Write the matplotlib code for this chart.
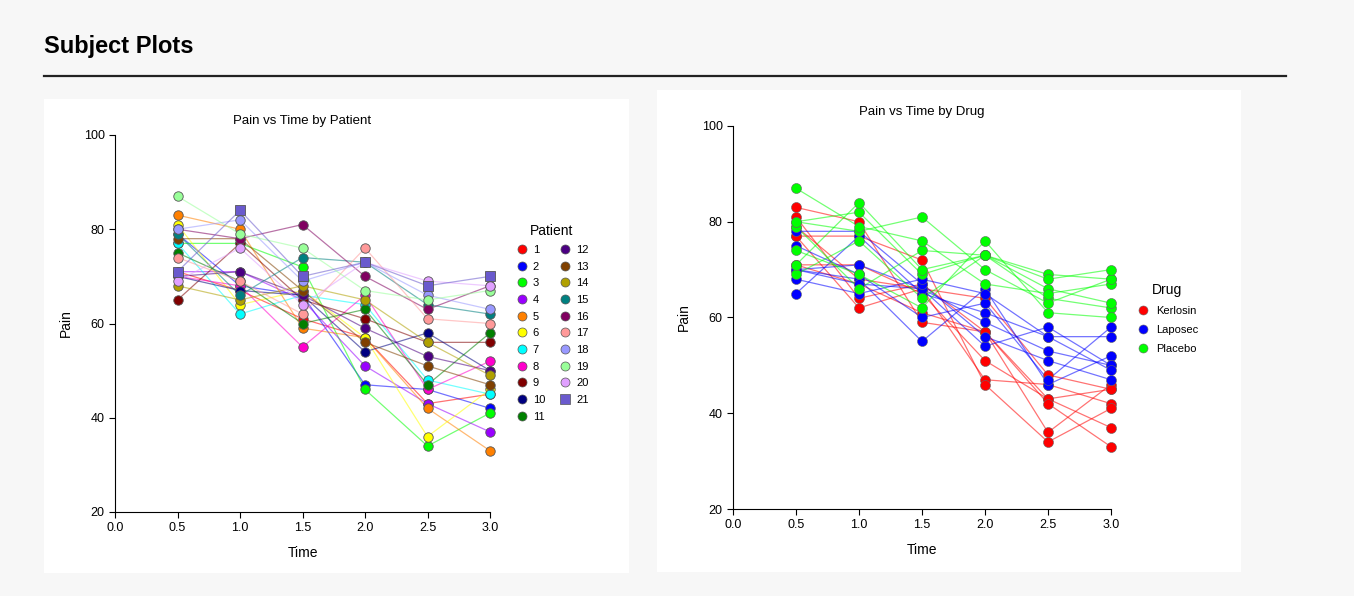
import matplotlib
matplotlib.use('Agg')
import matplotlib.pyplot as plt
from matplotlib.lines import Line2D
from matplotlib.patches import Rectangle

plt.rcParams['font.family'] = ['Liberation Sans', 'DejaVu Sans']

# data
times = [0.5, 1.0, 1.5, 2.0, 2.5, 3.0]
patients = [str(i) for i in range(1, 22)]
pain = [
    [71, 67, 61, 57, 43, 45],   # 1
    [79, 68, 66, 47, 46, 42],   # 2
    [77, 77, 72, 46, 34, 41],   # 3
    [71, 71, 65, 51, 43, 37],   # 4
    [83, 80, 59, 57, 42, 33],   # 5
    [81, 64, 67, 57, 36, 46],   # 6
    [77, 62, 66, 64, 48, 45],   # 7
    [70, 68, 55, 66, 46, 52],   # 8
    [65, 77, 65, 61, 56, 56],   # 9
    [70, 67, 66, 54, 58, 50],   # 10
    [75, 69, 60, 63, 47, 58],   # 11
    [70, 71, 66, 59, 53, 50],   # 12
    [78, 78, 67, 56, 51, 47],   # 13
    [68, 65, 68, 65, 56, 49],   # 14
    [79, 66, 74, 73, 64, 62],   # 15
    [80, 78, 81, 70, 63, 68],   # 16
    [74, 69, 62, 76, 61, 60],   # 17
    [80, 82, 69, 73, 66, 63],   # 18
    [87, 79, 76, 67, 65, 67],   # 19
    [69, 76, 64, 73, 69, 68],   # 20
    [71, 84, 70, 73, 68, 70],   # 21
]
drug = ['Kerlosin'] * 7 + ['Laposec'] * 7 + ['Placebo'] * 7
drugs = ['Kerlosin', 'Laposec', 'Placebo']

pat_colors = ['#ff0000', '#0000ff', '#00ff00', '#9900ff', '#ff8000', '#ffff00',
              '#00ffff', '#ff00cc', '#800000', '#000080', '#008000', '#4b0082',
              '#804000', '#b0a000', '#008080', '#800060', '#ff9999', '#9999ff',
              '#99ff99', '#e0a0ff', '#6a5acd']
drug_colors = {'Kerlosin': '#ff0000', 'Laposec': '#0000ff', 'Placebo': '#00ff00'}

fig = plt.figure(figsize=(13.54, 5.96), dpi=100)
fig.patch.set_facecolor('#f7f7f7')

fig.text(44/1354, 1 - 47/596, 'Subject Plots', fontsize=17, fontweight='bold', va='center')
fig.add_artist(Line2D([44/1354, 1286/1354], [1 - 76/596, 1 - 76/596], color='#222222', lw=1.6))

# white panels
fig.add_artist(Rectangle((44/1354, 1 - 573/596), 585/1354, 474/596,
                         facecolor='white', edgecolor='none', zorder=0))
fig.add_artist(Rectangle((657/1354, 1 - 572/596), 584/1354, 482/596,
                         facecolor='white', edgecolor='none', zorder=0))

ax1 = fig.add_axes([115/1354, 1 - 512/596, 375/1354, 377/596])
ax2 = fig.add_axes([733/1354, 1 - 509/596, 378/1354, 383/596])


def style(ax, title):
    ax.set_xlim(0, 3)
    ax.set_ylim(20, 100)
    ax.set_xticks([0, 0.5, 1, 1.5, 2, 2.5, 3])
    ax.set_xticklabels(['0.0', '0.5', '1.0', '1.5', '2.0', '2.5', '3.0'])
    ax.set_yticks([20, 40, 60, 80, 100])
    ax.spines['top'].set_visible(False)
    ax.spines['right'].set_visible(False)
    ax.tick_params(labelsize=9, length=4, width=0.8)
    ax.set_xlabel('Time', fontsize=10, labelpad=8)
    ax.set_ylabel('Pain', fontsize=10, labelpad=8)
    ax.set_title(title, fontsize=9.5, pad=8)
    ax.patch.set_alpha(0)


# left: by patient
handles = []
for i, p in enumerate(patients):
    c = pat_colors[i]
    mk = 's' if p == '21' else 'o'
    ax1.plot(times, pain[i], '-', color=c, lw=0.9, alpha=0.55, zorder=2)
    ax1.plot(times, pain[i], mk, color=c, ms=6.8, mec='#555555', mew=0.6, zorder=3,
             linestyle='none', clip_on=False)
    handles.append(Line2D([], [], marker=mk, color=c, linestyle='none', ms=6.5,
                          mec='#555555', mew=0.5, label=p))
style(ax1, 'Pain vs Time by Patient')
ax1.legend(handles=handles, title='Patient', ncol=2, frameon=False, fontsize=8,
           title_fontsize=10, loc='upper left', bbox_to_anchor=(1.04, 0.79),
           handletextpad=0.4, columnspacing=1.2, labelspacing=0.6, handlelength=1.2)

# right: by drug
for i, p in enumerate(patients):
    c = drug_colors[drug[i]]
    ax2.plot(times, pain[i], '-', color=c, lw=0.9, alpha=0.55, zorder=2)
    ax2.plot(times, pain[i], 'o', color=c, ms=7.2, mec='#666666', mew=0.4, zorder=3,
             linestyle='none', clip_on=False)
dh = [Line2D([], [], marker='o', color=drug_colors[d], linestyle='none', ms=6.5,
             mec='#666666', mew=0.4, label=d) for d in drugs]
style(ax2, 'Pain vs Time by Drug')
ax2.legend(handles=dh, title='Drug', frameon=False, fontsize=8, title_fontsize=10,
           loc='upper left', bbox_to_anchor=(1.04, 0.615), handletextpad=0.6,
           labelspacing=0.8, handlelength=1.2)

fig.savefig('out.png', dpi=100, facecolor=fig.get_facecolor())
